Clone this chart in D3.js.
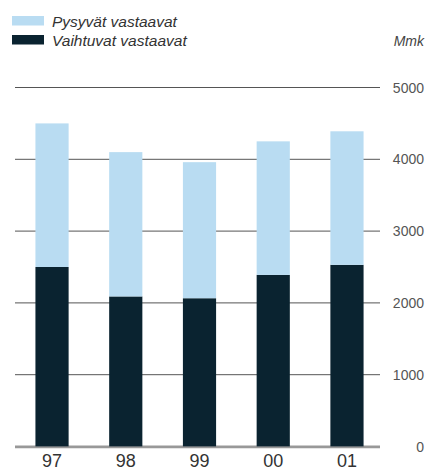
<html>
<head>
<script src="https://cdnjs.cloudflare.com/ajax/libs/d3/7.8.5/d3.min.js"></script>
<style>
body { margin: 0; background: #fff; font-family: 'Liberation Sans', Arial, sans-serif; }
</style>
</head>
<body>
<svg width="429" height="472"></svg>
<script>
// data (Mmk)
var years = ["97", "98", "99", "00", "01"];
var vaihtuvat = [2500, 2090, 2065, 2390, 2530];
var pysyvat = [2000, 2010, 1895, 1860, 1860];
var yTicks = [0, 1000, 2000, 3000, 4000, 5000];
var seriesNames = ["Pysyvät vastaavat", "Vaihtuvat vastaavat"];
var colors = ["#b9dcf2", "#0a2330"];

var svg = d3.select("svg");

var x = d3.scaleBand().domain(years).range([17, 382]).paddingInner(0.55).paddingOuter(0.25);
var y = d3.scaleLinear().domain([0, 5000]).range([446.5, 87.5]);

// gridlines
svg.selectAll("line.grid").data(yTicks).enter().append("line")
  .attr("class", "grid")
  .attr("x1", 15).attr("x2", 380)
  .attr("y1", function (d) { return y(d); })
  .attr("y2", function (d) { return y(d); })
  .style("stroke", function (d) { return d == 0 ? "#999" : "#555"; })
  .style("stroke-width", function (d) { return d == 0 ? 2 : 1; });

// y labels on the right
svg.selectAll("text.ytick").data(yTicks).enter().append("text")
  .attr("class", "ytick")
  .attr("x", 424)
  .attr("y", function (d) { return y(d) + 5; })
  .attr("text-anchor", "end")
  .style("font-size", "14px")
  .style("fill", "#555")
  .text(function (d) { return d; });

// stacked bars
var stack = years.map(function (yr, i) {
  return { year: yr, v: vaihtuvat[i], p: pysyvat[i] };
});

svg.selectAll("rect.vaiht").data(stack).enter().append("rect")
  .attr("class", "vaiht")
  .attr("x", function (d) { return x(d.year); })
  .attr("width", x.bandwidth())
  .attr("y", function (d) { return y(d.v); })
  .attr("height", function (d) { return y(0) - y(d.v); })
  .style("fill", colors[1]);

svg.selectAll("rect.pys").data(stack).enter().append("rect")
  .attr("class", "pys")
  .attr("x", function (d) { return x(d.year); })
  .attr("width", x.bandwidth())
  .attr("y", function (d) { return y(d.v + d.p); })
  .attr("height", function (d) { return y(d.v) - y(d.v + d.p); })
  .style("fill", colors[0]);

// redraw zero line over bars
svg.append("line")
  .attr("x1", 15).attr("x2", 380)
  .attr("y1", y(0) + 1).attr("y2", y(0) + 1)
  .style("stroke", "#999").style("stroke-width", 1.5);

// x labels
svg.selectAll("text.xtick").data(years).enter().append("text")
  .attr("class", "xtick")
  .attr("x", function (d) { return x(d) + x.bandwidth() / 2; })
  .attr("y", 467)
  .attr("text-anchor", "middle")
  .style("font-size", "18px")
  .style("fill", "#333")
  .text(function (d) { return d; });

// legend
var legend = svg.selectAll("g.legend").data(seriesNames).enter().append("g")
  .attr("class", "legend")
  .attr("transform", function (d, i) { return "translate(12," + (16 + i * 19) + ")"; });
legend.append("rect")
  .attr("width", 32).attr("height", 9.5)
  .style("fill", function (d, i) { return colors[i]; });
legend.append("text")
  .attr("x", 40).attr("y", 11)
  .style("font-size", "15.5px")
  .style("font-style", "italic")
  .style("fill", "#333")
  .text(function (d) { return d; });

svg.append("text")
  .attr("x", 424).attr("y", 46)
  .attr("text-anchor", "end")
  .style("font-size", "14px")
  .style("font-style", "italic")
  .style("fill", "#444")
  .text("Mmk");
</script>
</body>
</html>
